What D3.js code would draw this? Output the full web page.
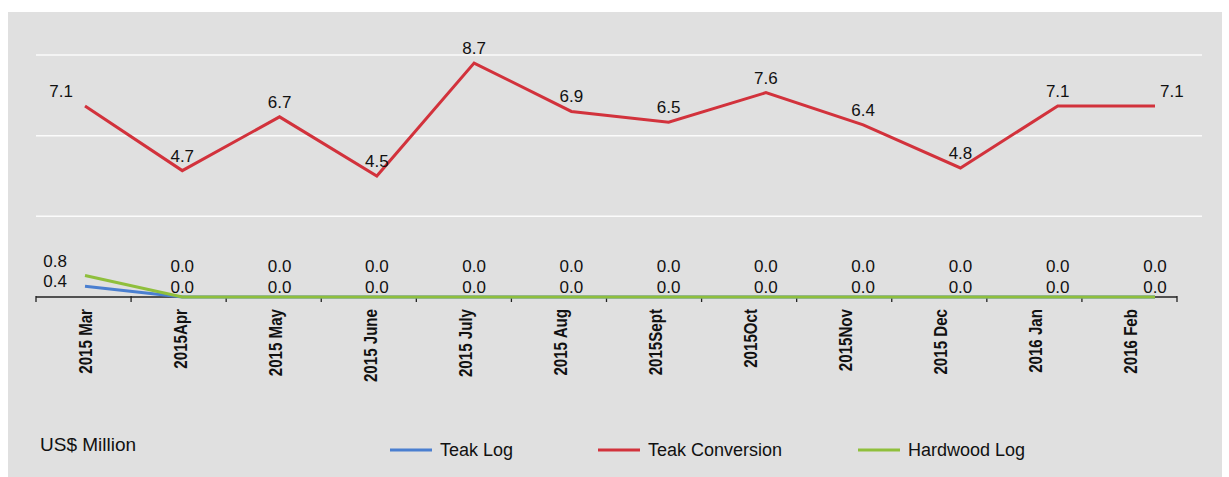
<!DOCTYPE html>
<html><head><meta charset="utf-8">
<script src="https://cdn.jsdelivr.net/npm/d3@7"></script>
<style>body{margin:0;background:#fff}svg{display:block}</style>
</head><body>
<svg id="c" width="1229" height="477"></svg>
<script>
const categories = ["2015 Mar","2015Apr","2015 May","2015 June","2015 July","2015 Aug","2015Sept","2015Oct","2015Nov","2015 Dec","2016 Jan","2016 Feb"];
const teakLog = [0.4,0,0,0,0,0,0,0,0,0,0,0];
const teakConversion = [7.1,4.7,6.7,4.5,8.7,6.9,6.5,7.6,6.4,4.8,7.1,7.1];
const hardwoodLog = [0.8,0,0,0,0,0,0,0,0,0,0,0];
const yTicks = [3,6,9];
const unitLabel = "US$ Million";
const legendNames = ["Teak Log","Teak Conversion","Hardwood Log"];

const colors = {teak:"#4a7fd0", conv:"#d2323c", hard:"#8fbf3c"};
const svg = d3.select("#c");
const font = "'Liberation Sans', Arial, sans-serif";

svg.append("rect").attr("x",8).attr("y",12).attr("width",1214).attr("height",465).attr("fill","#e0e0e0");

const y = d3.scaleLinear().domain([0,9]).range([297,55]);
const xPt = d3.scalePoint().domain(categories).range([85,1155]);
const xBand = d3.scaleBand().domain(categories).range([36,1177]).padding(0);

// gridlines
svg.append("g").selectAll("line").data(yTicks).join("line")
  .attr("x1",36).attr("x2",1202)
  .attr("y1",d=>y(d)).attr("y2",d=>y(d))
  .attr("stroke","#fbfbfb").attr("stroke-width",1.5);

// x axis
const ax = svg.append("g").attr("transform","translate(0,297)");
ax.append("line").attr("x1",36).attr("x2",1177).attr("stroke","#222").attr("stroke-width",1.3);
const tickPos = categories.map(c=>xBand(c)).concat([xBand.range()[1]]);
ax.selectAll("line.t").data(tickPos).join("line").attr("class","t")
  .attr("x1",d=>d).attr("x2",d=>d).attr("y1",-1).attr("y2",5)
  .attr("stroke","#222").attr("stroke-width",1.3);
svg.append("g").selectAll("text").data(categories).join("text")
  .attr("transform",d=>`translate(${xBand(d)+xBand.bandwidth()/2+8},309) rotate(-90) scale(0.84,1)`)
  .attr("text-anchor","end")
  .attr("font-family",font).attr("font-weight","bold").attr("font-size",18)
  .attr("fill","#111").text(d=>d);

// lines
const line = d3.line().x((d,i)=>xPt(categories[i])).y(d=>y(d));
function drawLine(data,color){
  svg.append("path").datum(data).attr("d",line).attr("fill","none")
    .attr("stroke",color).attr("stroke-width",3).attr("stroke-linejoin","miter");
}
drawLine(teakLog,colors.teak);
drawLine(teakConversion,colors.conv);
drawLine(hardwoodLog,colors.hard);

// labels
const n = categories.length;
function anchorFor(i){ return i===0 ? "end" : (i===n-1 ? "start" : "middle"); }
function dxFor(i){ return i===0 ? -12 : (i===n-1 ? 5 : 0); }
const lbl = svg.append("g").attr("font-family",font).attr("font-size",17).attr("fill","#111");
lbl.selectAll("text.c").data(teakConversion).join("text").attr("class","c")
  .attr("x",(d,i)=>xPt(categories[i])+dxFor(i)).attr("y",d=>y(d)-9)
  .attr("text-anchor",(d,i)=>anchorFor(i)).text(d=>d.toFixed(1));
lbl.selectAll("text.h").data(hardwoodLog).join("text").attr("class","h")
  .attr("x",(d,i)=>xPt(categories[i])+(i===0?-18:0)).attr("y",d=>Math.min(y(d)-14,266)+6)
  .attr("text-anchor",(d,i)=>i===0?"end":"middle").text(d=>d.toFixed(1));
lbl.selectAll("text.l").data(teakLog).join("text").attr("class","l")
  .attr("x",(d,i)=>xPt(categories[i])+(i===0?-18:0)).attr("y",d=>Math.min(y(d)-5,287)+6)
  .attr("text-anchor",(d,i)=>i===0?"end":"middle").text(d=>d.toFixed(1));

// unit label
svg.append("text").attr("x",40).attr("y",451).attr("font-family",font).attr("font-size",19)
  .attr("fill","#111").text(unitLabel);

// legend
const legX = [390,598,858];
const legColors = [colors.teak,colors.conv,colors.hard];
const lg = svg.append("g");
legendNames.forEach((nm,i)=>{
  lg.append("line").attr("x1",legX[i]).attr("x2",legX[i]+42).attr("y1",450).attr("y2",450)
    .attr("stroke",legColors[i]).attr("stroke-width",3);
  lg.append("text").attr("x",legX[i]+50).attr("y",456).attr("font-family",font).attr("font-size",18)
    .attr("fill","#111").text(nm);
});
</script>
</body></html>
